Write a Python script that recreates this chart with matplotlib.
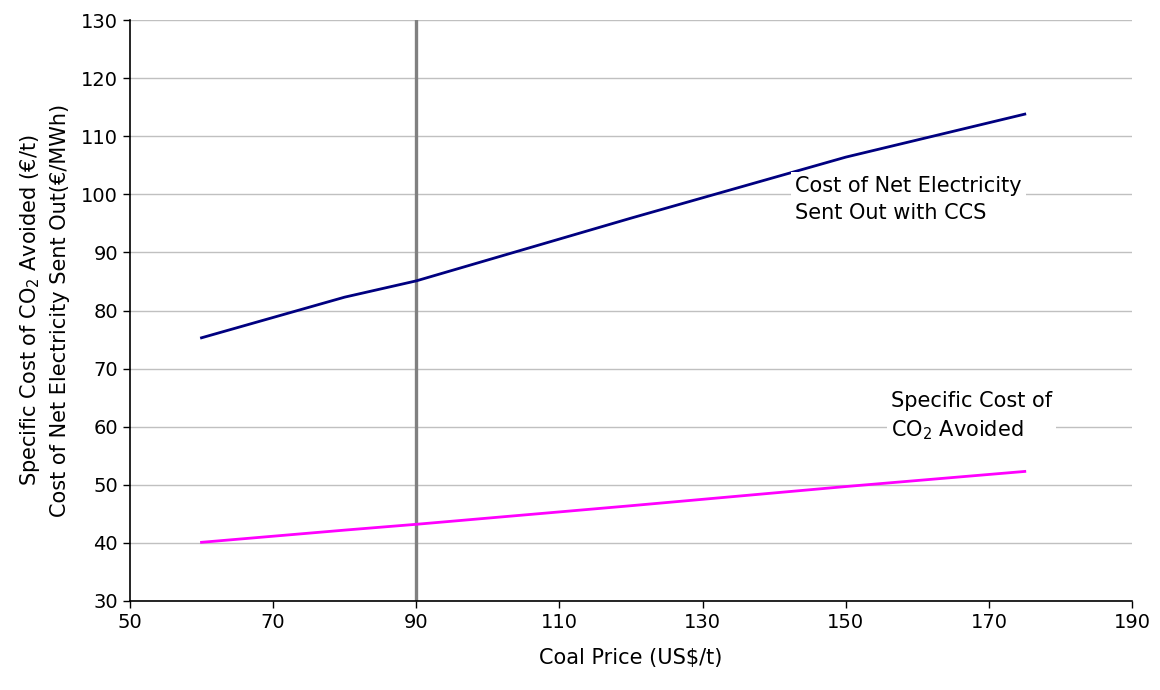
import matplotlib.pyplot as plt

coal_price = [60, 80, 90, 120, 150, 175]
cost_electricity = [75.3, 82.3, 85.1, 95.9, 106.4, 113.8]
cost_co2_avoided = [40.1, 42.2, 43.2, 46.4, 49.7, 52.3]
x_ticks = [50, 70, 90, 110, 130, 150, 170, 190]
y_ticks = [30, 40, 50, 60, 70, 80, 90, 100, 110, 120, 130]
reference_price = 90

plt.rcParams['font.family'] = ['DejaVu Sans']

fig = plt.figure(figsize=(11.6, 6.9), dpi=100)
ax = fig.add_axes([0.112, 0.129, 0.864, 0.842])

ax.set_xlim(50, 190)
ax.set_ylim(30, 130)
ax.set_xticks(x_ticks)
ax.set_yticks(y_ticks)
ax.yaxis.grid(True, color='#c0c0c0', linewidth=1.0)
ax.set_axisbelow(True)

ax.axvline(reference_price, color='#808080', linewidth=2.4, zorder=2)
ax.plot(coal_price, cost_electricity, color='#000080', linewidth=2.0, zorder=3)
ax.plot(coal_price, cost_co2_avoided, color='#ff00ff', linewidth=2.0, zorder=3)

box = dict(facecolor='white', edgecolor='none', pad=3)
ax.text(142.9, 103.2, 'Cost of Net Electricity\nSent Out with CCS', fontsize=15,
        va='top', ha='left', linespacing=1.45, bbox=box, zorder=4)
ax.text(156.3, 66.2, 'Specific Cost of\nCO$_2$ Avoided', fontsize=15,
        va='top', ha='left', linespacing=1.45, bbox=box, zorder=4)

for side in ['top', 'right']:
    ax.spines[side].set_visible(False)
ax.spines['left'].set_linewidth(1.2)
ax.spines['bottom'].set_linewidth(1.2)
ax.tick_params(direction='out', length=5, width=1, labelsize=14)

ax.set_xlabel('Coal Price (US\\$/t)', fontsize=15, labelpad=12)
ax.set_ylabel('Specific Cost of CO$_2$ Avoided (€/t)\nCost of Net Electricity Sent Out(€/MWh)',
              fontsize=15, labelpad=8, linespacing=1.5)

fig.savefig('out.png', dpi=100)
